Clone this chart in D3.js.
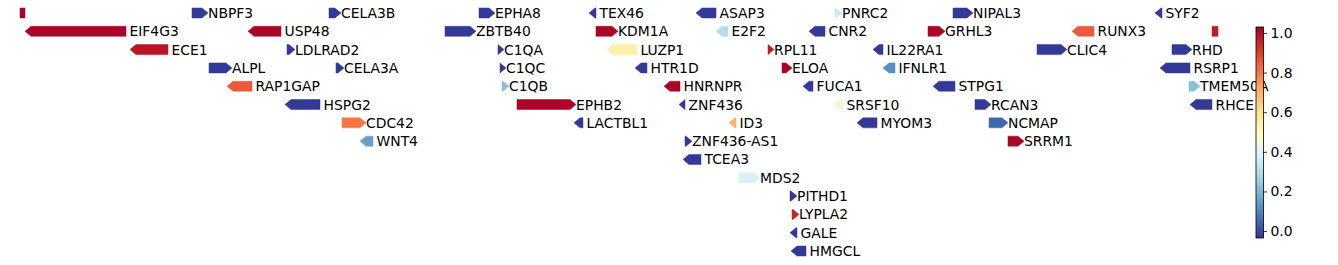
<!DOCTYPE html>
<html>
<head>
	<meta http-equiv="Content-Type" content="text/html;charset=UTF-8">
	<title>Gene track</title>
	<style>
		body { margin: 0; background: #fff; }
		text { font-family: "DejaVu Sans", sans-serif; }
	</style>
</head>
<body>
	<div class="track"></div>

	<script src="https://cdn.jsdelivr.net/npm/d3@7"></script>
	<script>

		/* gene data: position (track units), strand, row and score */
		var geneNames  = ["", "NBPF3", "CELA3B", "EPHA8", "TEX46", "ASAP3", "PNRC2", "NIPAL3", "SYF2",
						  "EIF4G3", "USP48", "ZBTB40", "KDM1A", "E2F2", "CNR2", "GRHL3", "RUNX3", "",
						  "ECE1", "LDLRAD2", "C1QA", "LUZP1", "RPL11", "IL22RA1", "CLIC4", "RHD",
						  "ALPL", "CELA3A", "C1QC", "HTR1D", "ELOA", "IFNLR1", "RSRP1",
						  "RAP1GAP", "C1QB", "HNRNPR", "FUCA1", "STPG1", "TMEM50A",
						  "HSPG2", "EPHB2", "ZNF436", "SRSF10", "RCAN3", "RHCE",
						  "CDC42", "LACTBL1", "ID3", "MYOM3", "NCMAP",
						  "WNT4", "ZNF436-AS1", "SRRM1",
						  "TCEA3", "MDS2", "PITHD1", "LYPLA2", "GALE", "HMGCL"];
		var geneStart  = [20, 192, 329, 479, 589, 696, 835, 953, 1155,
						  25, 248, 445, 596, 716, 809, 928, 1072, 1212,
						  130, 287, 498, 607, 768, 873, 1037, 1172,
						  209, 336, 500, 635, 782, 883, 1160,
						  227, 502, 664, 803, 933, 1189,
						  285, 517, 679, 833, 975, 1190,
						  342, 574, 729, 857, 989,
						  360, 685, 1008,
						  683, 739, 790, 792, 790, 791];
		var geneEnd    = [25, 208, 341, 495, 596, 716, 842, 973, 1162,
						  126, 281, 476, 618, 728, 825, 945, 1094, 1218,
						  168, 295, 504, 637, 774, 883, 1067, 1192,
						  232, 344, 506, 647, 792, 895, 1190,
						  252, 509, 680, 813, 955, 1200,
						  320, 576, 685, 843, 991, 1212,
						  366, 583, 736, 877, 1008,
						  373, 692, 1024,
						  701, 760, 797, 799, 797, 806];
		var geneStrand = [0, 1, 1, 1, -1, -1, 1, 1, -1,
						  -1, -1, 1, 1, -1, -1, 1, -1, 0,
						  -1, 1, 1, -1, 1, -1, 1, 1,
						  1, 1, 1, -1, 1, -1, -1,
						  -1, 1, -1, -1, -1, 1,
						  -1, 1, -1, -1, 1, -1,
						  1, -1, -1, -1, 1,
						  -1, 1, 1,
						  -1, 1, 1, 1, -1, -1];
		var geneRow    = [0, 0, 0, 0, 0, 0, 0, 0, 0,
						  1, 1, 1, 1, 1, 1, 1, 1, 1,
						  2, 2, 2, 2, 2, 2, 2, 2,
						  3, 3, 3, 3, 3, 3, 3,
						  4, 4, 4, 4, 4, 4,
						  5, 5, 5, 5, 5, 5,
						  6, 6, 6, 6, 6,
						  7, 7, 7,
						  8, 9, 10, 11, 12, 13];
		var geneValue  = [1.02, -0.03, -0.03, -0.03, -0.03, -0.03, 0.35, -0.03, -0.03,
						  1.02, 1.02, -0.03, 1.02, 0.3, -0.03, 1.02, 0.85, 0.97,
						  0.985, -0.03, -0.03, 0.55, 0.97, -0.03, -0.03, -0.03,
						  -0.03, -0.03, -0.03, -0.03, 1.02, 0.12, -0.03,
						  0.85, 0.22, 1.02, -0.03, -0.03, 0.22,
						  -0.03, 1.02, -0.03, 0.45, -0.03, -0.03,
						  0.8, -0.03, 0.7, -0.03, 0.05,
						  0.15, -0.03, 1.02,
						  -0.03, 0.38, -0.03, 0.95, -0.03, -0.03];

		var cbarTicks = [0.0, 0.2, 0.4, 0.6, 0.8, 1.0];
		var cbarDomain = [-0.035, 1.03];
		/* RdYlBu reversed, linear segments like matplotlib */
		var cmapColors = ["#313695", "#4575b4", "#74add1", "#abd9e9", "#e0f3f8", "#ffffbf",
						  "#fee090", "#fdae61", "#f46d43", "#d73027", "#a50026"];

		var w = 1338;
		var h = 265;
		var nRows = 14;
		var barH = 10;
		var headLen = 6;

		var genes = geneNames.map(function(name, i){
			return { name: name, start: geneStart[i], end: geneEnd[i], strand: geneStrand[i],
					 row: geneRow[i], value: geneValue[i] };
		});

		var SVG = d3.select("div.track").append("svg")
					.attr("width", w)
					.attr("height", h);

		/* scales */
		var xSCALE = d3.scaleLinear().domain([0, w]).range([0, w]);
		var ySCALE = d3.scaleLinear().domain([0, nRows - 1]).range([13, 251]);
		var cmap = d3.scaleLinear()
					.domain(d3.range(cmapColors.length).map(function(i){ return i / (cmapColors.length - 1); }))
					.range(cmapColors)
					.interpolate(d3.interpolateRgb)
					.clamp(true);
		var cSCALE = d3.scaleSequential(cmap).domain(cbarDomain);

		/* arrow shaped gene */
		function genePath(d){
			var x0 = xSCALE(d.start), x1 = xSCALE(d.end), yc = ySCALE(d.row);
			var t = yc - barH/2, b = yc + barH/2;
			var hl = Math.min(headLen, x1 - x0);
			if (d.strand === 1) {
				return "M" + x0 + "," + t + "L" + (x1 - hl) + "," + t + "L" + x1 + "," + yc +
					   "L" + (x1 - hl) + "," + b + "L" + x0 + "," + b + "Z";
			} else if (d.strand === -1) {
				return "M" + x1 + "," + t + "L" + (x0 + hl) + "," + t + "L" + x0 + "," + yc +
					   "L" + (x0 + hl) + "," + b + "L" + x1 + "," + b + "Z";
			}
			return "M" + x0 + "," + t + "H" + x1 + "V" + b + "H" + x0 + "Z";
		}

		SVG.selectAll("path.gene")
			.data(genes)
			.enter()
			.append("path")
			.attr("class", "gene")
			.attr("d", genePath)
			.attr("fill", function(d){ return cSCALE(d.value); })
			.attr("stroke", function(d){ return cSCALE(d.value); })
			.attr("stroke-width", 0.5);

		/* labels */
		SVG.selectAll("text.label")
			.data(genes.filter(function(d){ return d.name !== ""; }))
			.enter()
			.append("text")
			.attr("class", "label")
			.text(function(d){ return d.name; })
			.attr("x", function(d){ return xSCALE(d.end) + (d.strand === 1 ? 0 : 3.5); })
			.attr("y", function(d){ return ySCALE(d.row); })
			.attr("dy", "0.36em")
			.attr("font-size", "13.9px")
			.attr("fill", "#000");

		/* colorbar */
		var cbX = 1256, cbW = 7.5, cbTop = 27, cbBot = 238;
		var cbSCALE = d3.scaleLinear().domain(cbarDomain).range([cbBot, cbTop]);

		var defs = SVG.append("defs");
		var grad = defs.append("linearGradient")
			.attr("id", "cbar")
			.attr("x1", 0).attr("y1", 1).attr("x2", 0).attr("y2", 0);
		d3.range(0, 1.0001, 0.02).forEach(function(t){
			grad.append("stop")
				.attr("offset", t)
				.attr("stop-color", cSCALE(cbarDomain[0] + t * (cbarDomain[1] - cbarDomain[0])));
		});

		SVG.append("rect")
			.attr("x", cbX).attr("y", cbTop)
			.attr("width", cbW).attr("height", cbBot - cbTop)
			.attr("fill", "url(#cbar)")
			.attr("stroke", "#000")
			.attr("stroke-width", 0.8);

		var cbAxis = d3.axisRight(cbSCALE)
			.tickValues(cbarTicks)
			.tickFormat(d3.format(".1f"))
			.tickSize(3.5)
			.tickPadding(3.5);

		var gAx = SVG.append("g")
			.attr("transform", "translate(" + (cbX + cbW) + ",0)")
			.call(cbAxis);
		gAx.select(".domain").remove();
		gAx.selectAll("line").attr("stroke", "#000").attr("stroke-width", 0.8);
		gAx.selectAll("text")
			.attr("font-family", "DejaVu Sans")
			.attr("font-size", "13.9px")
			.attr("fill", "#000");

	</script>
</body>
</html>
